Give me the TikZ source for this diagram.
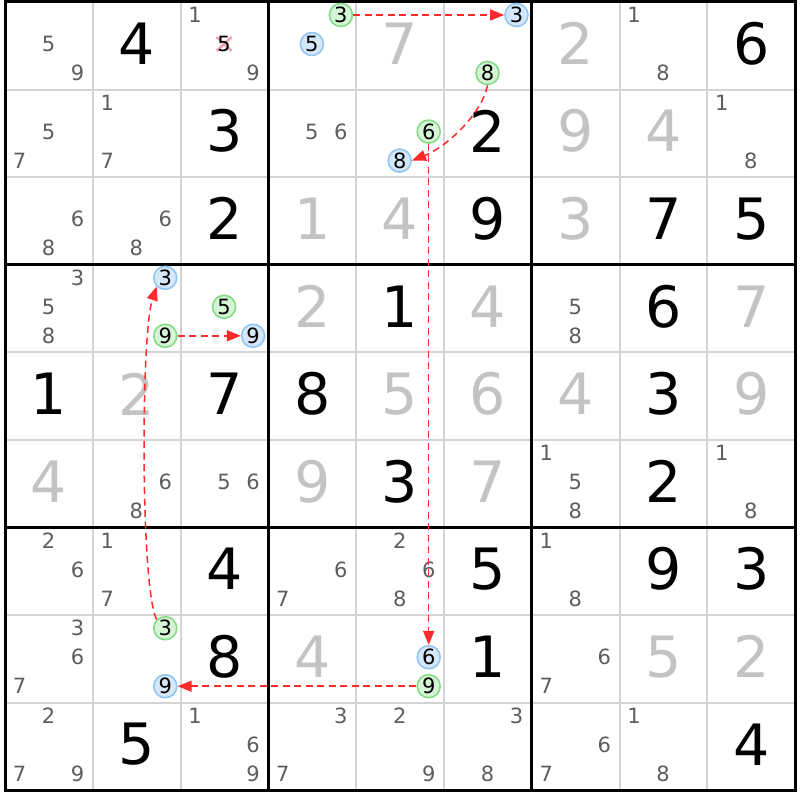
\documentclass[tikz,border=0pt]{standalone}
\usepackage{fontspec}
\setmainfont{DejaVu Sans}
\usetikzlibrary{arrows.meta,calc}
\definecolor{candgray}{HTML}{5E5E5E}
\definecolor{solvgray}{HTML}{C3C3C3}
\definecolor{thingrid}{HTML}{D4D4D4}
\definecolor{chainred}{HTML}{FF2A2A}
\definecolor{gfill}{HTML}{D6F5D6}
\definecolor{gline}{HTML}{86DB86}
\definecolor{bfill}{HTML}{D5E8FB}
\definecolor{bline}{HTML}{93C5F2}
\definecolor{xpink}{HTML}{F5A3B3}
\newcommand\chaincand[5]{%
  \pgfmathtruncatemacro\ck{mod(#5-1,3)}%
  \pgfmathtruncatemacro\cj{floor((#5-1)/3)}%
  \pgfmathsetmacro\cxx{5+(#4-1)*87.8+14.5+\ck*29}%
  \pgfmathsetmacro\cyy{2+(#3-1)*87.6+13+\cj*29}%
  \node[#1] (#2) at (\cxx,\cyy) {#5};%
}
\tikzset{
  given/.style={font=\fontsize{57}{57}\selectfont, text=black, inner sep=0pt},
  solved/.style={given, text=solvgray},
  cand/.style={font=\fontsize{21}{21}\selectfont, text=candgray, inner sep=0pt},
  elimcand/.style={cand, text=black},
  gcirc/.style={circle, draw=gline, fill=gfill, line width=1.6pt, minimum size=23pt,
    inner sep=0pt, font=\fontsize{21}{21}\selectfont, text=black},
  bcirc/.style={gcirc, draw=bline, fill=bfill},
  thingridline/.style={draw=thingrid, line width=2pt},
  thickgridline/.style={draw=black, line width=3pt},
  chain/.style={draw=chainred, line width=1.5pt, dash pattern=on 7pt off 4.5pt,
    -{Triangle[length=14pt,width=11pt]}},
  xmark/.style={draw=xpink, line width=2.5pt}
}
\begin{document}
\begin{tikzpicture}[x=1pt,y=-1pt]
\useasboundingbox (0,0) rectangle (800,800);
\fill[white] (0,0) rectangle (800,800);
% thin grid
\foreach \i in {1,2,4,5,7,8} {
  \draw[thingridline] ({5+\i*87.8},2) -- ({5+\i*87.8},790.4);
  \draw[thingridline] (5,{2+\i*87.6}) -- (795.2,{2+\i*87.6});
}
% thick grid
\foreach \i in {0,3,6,9} {
  \draw[thickgridline] ({5+\i*87.8},0.5) -- ({5+\i*87.8},791.9);
  \draw[thickgridline] (3.5,{2+\i*87.6}) -- (796.7,{2+\i*87.6});
}
% givens
\foreach \r/\c/\d in {1/2/4,1/9/6,2/3/3,2/6/2,3/3/2,3/6/9,3/8/7,3/9/5,4/5/1,4/8/6,
  5/1/1,5/3/7,5/4/8,5/8/3,6/5/3,6/8/2,7/3/4,7/6/5,7/8/9,7/9/3,8/3/8,8/6/1,9/2/5,9/9/4} {
  \pgfmathsetmacro\xx{5+(\c-1)*87.8+43.9}
  \pgfmathsetmacro\yy{2+(\r-1)*87.6+41.5}
  \node[given] (g\r\c) at (\xx,\yy) {\d};
}
% solved
\foreach \r/\c/\d in {1/5/7,1/7/2,2/7/9,2/8/4,3/4/1,3/5/4,3/7/3,4/4/2,4/6/4,4/9/7,
  5/2/2,5/5/5,5/6/6,5/7/4,5/9/9,6/1/4,6/4/9,6/6/7,8/4/4,8/8/5,8/9/2} {
  \pgfmathsetmacro\xx{5+(\c-1)*87.8+43.9}
  \pgfmathsetmacro\yy{2+(\r-1)*87.6+41.5}
  \node[solved] (s\r\c) at (\xx,\yy) {\d};
}
% candidates
\foreach \r/\c/\d in {1/1/5,1/1/9,1/3/1,1/3/9,1/8/1,1/8/8,
  2/1/5,2/1/7,2/2/1,2/2/7,2/4/5,2/4/6,2/9/1,2/9/8,
  3/1/6,3/1/8,3/2/6,3/2/8,
  4/1/3,4/1/5,4/1/8,4/7/5,4/7/8,
  6/2/6,6/2/8,6/3/5,6/3/6,6/7/1,6/7/5,6/7/8,6/9/1,6/9/8,
  7/1/2,7/1/6,7/2/1,7/2/7,7/4/6,7/4/7,7/5/2,7/5/6,7/5/8,7/7/1,7/7/8,
  8/1/3,8/1/6,8/1/7,8/7/6,8/7/7,
  9/1/2,9/1/7,9/1/9,9/3/1,9/3/6,9/3/9,9/4/3,9/4/7,9/5/2,9/5/9,9/6/3,9/6/8,
  9/7/6,9/7/7,9/8/1,9/8/8} {
  \chaincand{cand}{c\r\c\d}{\r}{\c}{\d}
}
% eliminated candidate
\coordinate (x135) at (224.1,44);
\draw[xmark] ($(x135)+(-7.5,-7)$) -- ($(x135)+(7.5,7)$);
\draw[xmark] ($(x135)+(-7.5,7)$) -- ($(x135)+(7.5,-7)$);
\node[elimcand] (e135) at (x135) {5};
% chain candidates
\chaincand{gcirc}{g143}{1}{4}{3}
\chaincand{bcirc}{b145}{1}{4}{5}
\chaincand{bcirc}{b163}{1}{6}{3}
\chaincand{gcirc}{g168}{1}{6}{8}
\chaincand{gcirc}{g256}{2}{5}{6}
\chaincand{bcirc}{b258}{2}{5}{8}
\chaincand{bcirc}{b423}{4}{2}{3}
\chaincand{gcirc}{g429}{4}{2}{9}
\chaincand{gcirc}{g435}{4}{3}{5}
\chaincand{bcirc}{b439}{4}{3}{9}
\chaincand{gcirc}{g823}{8}{2}{3}
\chaincand{bcirc}{b829}{8}{2}{9}
\chaincand{bcirc}{b856}{8}{5}{6}
\chaincand{gcirc}{g859}{8}{5}{9}
% chain links
\draw[chain] (g143) -- (b163);
\draw[chain] (g168.south) .. controls ($(g168.south)+(-6,30)$) and ($(b258.east)+(33,-13)$) .. (b258.east);
\draw[chain] (g256) -- (b856);
\draw[chain] (g859) -- (b829);
\draw[chain] (g823.north west) .. controls ($(g823.north west)+(-16,-30)$) and ($(b423.south west)+(-16,49)$) .. (b423.south west);
\draw[chain] (g429) -- (b439);
\end{tikzpicture}
\end{document}
